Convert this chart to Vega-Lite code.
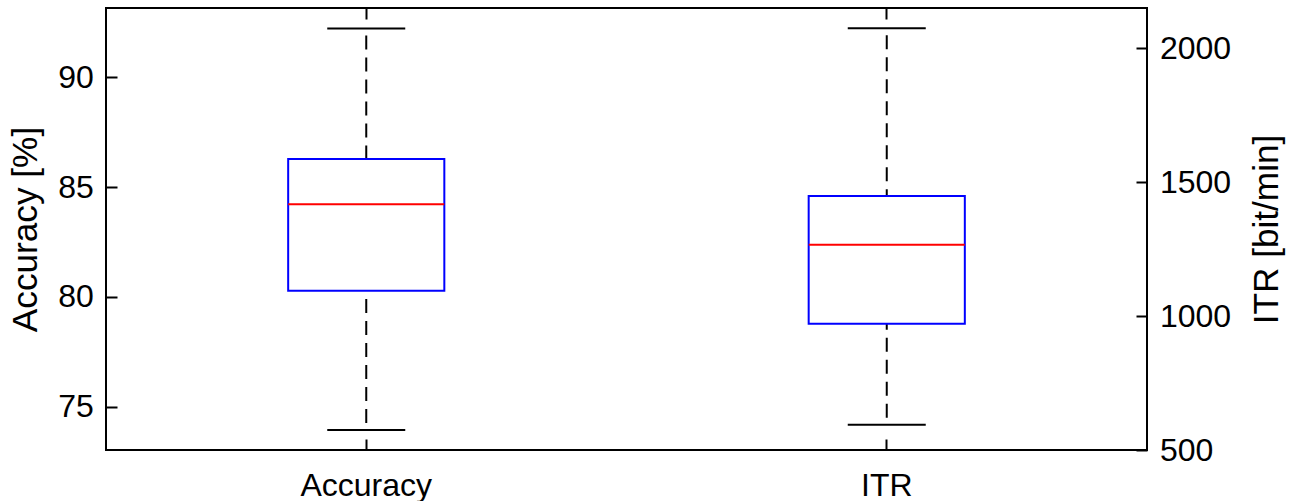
{
  "$schema": "https://vega.github.io/schema/vega-lite/v6.json",
  "width": 1041,
  "height": 442,
  "autosize": {"type": "none"},
  "padding": {"left": 106, "top": 8, "right": 151, "bottom": 51},
  "background": "white",
  "data": {
    "values": [
      {"metric": "Accuracy", "lo": 73.94, "q1": 80.28, "median": 84.22, "q3": 86.28, "hi": 92.23},
      {"metric": "ITR", "lo": 594, "q1": 972, "median": 1267, "q3": 1449, "hi": 2075}
    ]
  },
  "config": {
    "font": "Liberation Sans",
    "view": {"stroke": "black", "strokeWidth": 2},
    "axis": {
      "labelFontSize": 32,
      "titleFontSize": 35.2,
      "titleFontWeight": "normal",
      "labelColor": "black",
      "titleColor": "black",
      "tickColor": "black",
      "tickWidth": 2,
      "tickSize": -11,
      "domain": false,
      "grid": false
    }
  },
  "layer": [
    {
      "transform": [{"filter": "datum.metric === 'Accuracy'"}],
      "layer": [
        {
          "mark": {"type": "rule", "color": "black", "strokeWidth": 2, "strokeDash": [14, 8], "strokeDashOffset": 15},
          "encoding": {
            "x": {"field": "metric", "type": "nominal", "scale": {"domain": ["Accuracy", "ITR"], "paddingInner": 0, "paddingOuter": 0}, "axis": {"orient": "bottom", "title": null, "labelAngle": 0, "labelPadding": 31}},
            "y": {"field": "hi", "type": "quantitative", "scale": {"domain": [73.03, 93.16], "nice": false, "zero": false}, "axis": {"orient": "left", "title": "Accuracy [%]", "values": [75, 80, 85, 90], "format": "d", "labelPadding": 23.7, "titlePadding": 14}},
            "y2": {"field": "q3"}
          }
        },
        {
          "mark": {"type": "rule", "color": "black", "strokeWidth": 2, "strokeDash": [14, 8], "strokeDashOffset": 15},
          "encoding": {
            "x": {"field": "metric", "type": "nominal", "scale": {"domain": ["Accuracy", "ITR"], "paddingInner": 0, "paddingOuter": 0}, "axis": {"orient": "bottom", "title": null, "labelAngle": 0, "labelPadding": 31}},
            "y": {"field": "lo", "type": "quantitative", "scale": {"domain": [73.03, 93.16], "nice": false, "zero": false}, "axis": {"orient": "left", "title": "Accuracy [%]", "values": [75, 80, 85, 90], "format": "d", "labelPadding": 23.7, "titlePadding": 14}},
            "y2": {"field": "q1"}
          }
        },
        {
          "mark": {"type": "tick", "color": "black", "thickness": 2, "size": 78, "opacity": 1},
          "encoding": {
            "x": {"field": "metric", "type": "nominal", "scale": {"domain": ["Accuracy", "ITR"], "paddingInner": 0, "paddingOuter": 0}, "axis": {"orient": "bottom", "title": null, "labelAngle": 0, "labelPadding": 31}},
            "y": {"field": "hi", "type": "quantitative", "scale": {"domain": [73.03, 93.16], "nice": false, "zero": false}, "axis": {"orient": "left", "title": "Accuracy [%]", "values": [75, 80, 85, 90], "format": "d", "labelPadding": 23.7, "titlePadding": 14}}
          }
        },
        {
          "mark": {"type": "tick", "color": "black", "thickness": 2, "size": 78, "opacity": 1},
          "encoding": {
            "x": {"field": "metric", "type": "nominal", "scale": {"domain": ["Accuracy", "ITR"], "paddingInner": 0, "paddingOuter": 0}, "axis": {"orient": "bottom", "title": null, "labelAngle": 0, "labelPadding": 31}},
            "y": {"field": "lo", "type": "quantitative", "scale": {"domain": [73.03, 93.16], "nice": false, "zero": false}, "axis": {"orient": "left", "title": "Accuracy [%]", "values": [75, 80, 85, 90], "format": "d", "labelPadding": 23.7, "titlePadding": 14}}
          }
        },
        {
          "mark": {"type": "bar", "fill": null, "fillOpacity": 0, "stroke": "#0000ff", "strokeWidth": 2, "width": {"band": 0.3}},
          "encoding": {
            "x": {"field": "metric", "type": "nominal", "scale": {"domain": ["Accuracy", "ITR"], "paddingInner": 0, "paddingOuter": 0}, "axis": {"orient": "bottom", "title": null, "labelAngle": 0, "labelPadding": 31}},
            "y": {"field": "q1", "type": "quantitative", "scale": {"domain": [73.03, 93.16], "nice": false, "zero": false}, "axis": {"orient": "left", "title": "Accuracy [%]", "values": [75, 80, 85, 90], "format": "d", "labelPadding": 23.7, "titlePadding": 14}},
            "y2": {"field": "q3"}
          }
        },
        {
          "mark": {"type": "tick", "color": "#ff0000", "thickness": 2, "size": 156, "opacity": 1},
          "encoding": {
            "x": {"field": "metric", "type": "nominal", "scale": {"domain": ["Accuracy", "ITR"], "paddingInner": 0, "paddingOuter": 0}, "axis": {"orient": "bottom", "title": null, "labelAngle": 0, "labelPadding": 31}},
            "y": {"field": "median", "type": "quantitative", "scale": {"domain": [73.03, 93.16], "nice": false, "zero": false}, "axis": {"orient": "left", "title": "Accuracy [%]", "values": [75, 80, 85, 90], "format": "d", "labelPadding": 23.7, "titlePadding": 14}}
          }
        }
      ]
    },
    {
      "transform": [{"filter": "datum.metric === 'ITR'"}],
      "layer": [
        {
          "mark": {"type": "rule", "color": "black", "strokeWidth": 2, "strokeDash": [14, 8], "strokeDashOffset": 15},
          "encoding": {
            "x": {"field": "metric", "type": "nominal", "scale": {"domain": ["Accuracy", "ITR"], "paddingInner": 0, "paddingOuter": 0}, "axis": {"orient": "top", "title": null, "labels": false}},
            "y": {"field": "hi", "type": "quantitative", "scale": {"domain": [500, 2151], "nice": false, "zero": false}, "axis": {"orient": "right", "title": "ITR [bit/min]", "values": [500, 1000, 1500, 2000], "format": "d", "labelPadding": 23.4, "titlePadding": 19, "titleAngle": 270, "titleBaseline": "top"}},
            "y2": {"field": "q3"}
          }
        },
        {
          "mark": {"type": "rule", "color": "black", "strokeWidth": 2, "strokeDash": [14, 8], "strokeDashOffset": 15},
          "encoding": {
            "x": {"field": "metric", "type": "nominal", "scale": {"domain": ["Accuracy", "ITR"], "paddingInner": 0, "paddingOuter": 0}, "axis": {"orient": "top", "title": null, "labels": false}},
            "y": {"field": "lo", "type": "quantitative", "scale": {"domain": [500, 2151], "nice": false, "zero": false}, "axis": {"orient": "right", "title": "ITR [bit/min]", "values": [500, 1000, 1500, 2000], "format": "d", "labelPadding": 23.4, "titlePadding": 19, "titleAngle": 270, "titleBaseline": "top"}},
            "y2": {"field": "q1"}
          }
        },
        {
          "mark": {"type": "tick", "color": "black", "thickness": 2, "size": 78, "opacity": 1},
          "encoding": {
            "x": {"field": "metric", "type": "nominal", "scale": {"domain": ["Accuracy", "ITR"], "paddingInner": 0, "paddingOuter": 0}, "axis": {"orient": "top", "title": null, "labels": false}},
            "y": {"field": "hi", "type": "quantitative", "scale": {"domain": [500, 2151], "nice": false, "zero": false}, "axis": {"orient": "right", "title": "ITR [bit/min]", "values": [500, 1000, 1500, 2000], "format": "d", "labelPadding": 23.4, "titlePadding": 19, "titleAngle": 270, "titleBaseline": "top"}}
          }
        },
        {
          "mark": {"type": "tick", "color": "black", "thickness": 2, "size": 78, "opacity": 1},
          "encoding": {
            "x": {"field": "metric", "type": "nominal", "scale": {"domain": ["Accuracy", "ITR"], "paddingInner": 0, "paddingOuter": 0}, "axis": {"orient": "top", "title": null, "labels": false}},
            "y": {"field": "lo", "type": "quantitative", "scale": {"domain": [500, 2151], "nice": false, "zero": false}, "axis": {"orient": "right", "title": "ITR [bit/min]", "values": [500, 1000, 1500, 2000], "format": "d", "labelPadding": 23.4, "titlePadding": 19, "titleAngle": 270, "titleBaseline": "top"}}
          }
        },
        {
          "mark": {"type": "bar", "fill": null, "fillOpacity": 0, "stroke": "#0000ff", "strokeWidth": 2, "width": {"band": 0.3}},
          "encoding": {
            "x": {"field": "metric", "type": "nominal", "scale": {"domain": ["Accuracy", "ITR"], "paddingInner": 0, "paddingOuter": 0}, "axis": {"orient": "top", "title": null, "labels": false}},
            "y": {"field": "q1", "type": "quantitative", "scale": {"domain": [500, 2151], "nice": false, "zero": false}, "axis": {"orient": "right", "title": "ITR [bit/min]", "values": [500, 1000, 1500, 2000], "format": "d", "labelPadding": 23.4, "titlePadding": 19, "titleAngle": 270, "titleBaseline": "top"}},
            "y2": {"field": "q3"}
          }
        },
        {
          "mark": {"type": "tick", "color": "#ff0000", "thickness": 2, "size": 156, "opacity": 1},
          "encoding": {
            "x": {"field": "metric", "type": "nominal", "scale": {"domain": ["Accuracy", "ITR"], "paddingInner": 0, "paddingOuter": 0}, "axis": {"orient": "top", "title": null, "labels": false}},
            "y": {"field": "median", "type": "quantitative", "scale": {"domain": [500, 2151], "nice": false, "zero": false}, "axis": {"orient": "right", "title": "ITR [bit/min]", "values": [500, 1000, 1500, 2000], "format": "d", "labelPadding": 23.4, "titlePadding": 19, "titleAngle": 270, "titleBaseline": "top"}}
          }
        }
      ]
    }
  ],
  "resolve": {"scale": {"y": "independent"}, "axis": {"x": "independent"}}
}
